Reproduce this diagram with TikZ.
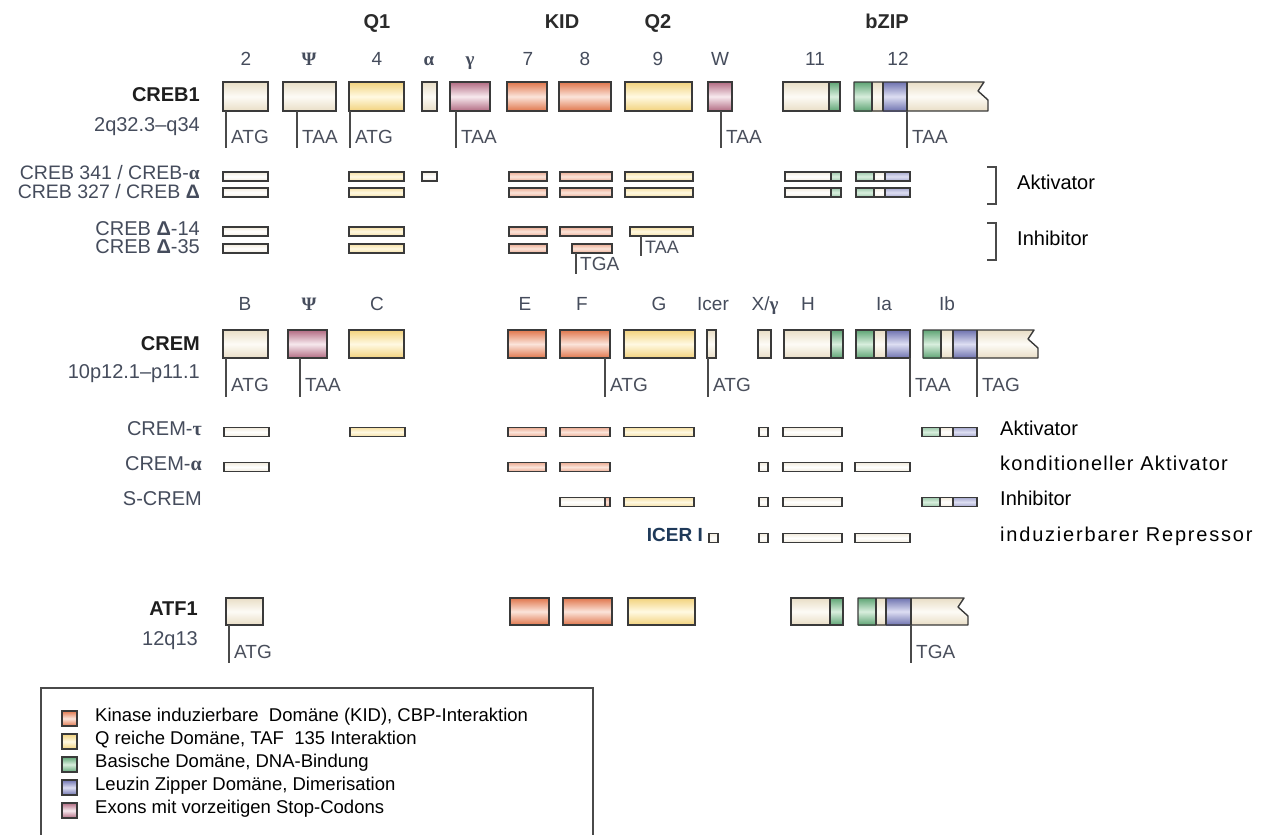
\documentclass[tikz,border=0pt]{standalone}
\usepackage{fontspec}
\setmainfont{Liberation Sans}
\newfontfamily\grk{Liberation Serif}
\newcommand\fsz[1]{\fontsize{#1}{#1}\selectfont}
\definecolor{edgec}{HTML}{3A3A3A}
\definecolor{beigeD}{HTML}{E9DEC6}
\definecolor{beigeL}{HTML}{FDFBF6}
\definecolor{yelD}{HTML}{F2D27C}
\definecolor{yelL}{HTML}{FFF9E2}
\definecolor{oraD}{HTML}{E0764C}
\definecolor{oraL}{HTML}{FBE4DA}
\definecolor{mauD}{HTML}{B26B82}
\definecolor{mauL}{HTML}{F7E9EE}
\definecolor{greD}{HTML}{5FA575}
\definecolor{greL}{HTML}{D8EEDD}
\definecolor{bluD}{HTML}{6F73B0}
\definecolor{bluL}{HTML}{DDDEF2}
\definecolor{labc}{HTML}{454C5C}
\definecolor{genec}{HTML}{1E1E1E}
\definecolor{hdrc}{HTML}{2A2A2A}
\definecolor{codc}{HTML}{4A4F5C}
\definecolor{tickc}{HTML}{4A4A4A}
\definecolor{icerc}{HTML}{1F3A5A}
\newcommand\vb[4]{\draw[bar,#4] (#1,#3-4.5) rectangle (#2,#3+4.5);}
\newcommand\vbg[4]{\shade[beigeB] (#1,#4-4.5) rectangle (#2,#4+4.5);\shade[greB] (#2,#4-4.5) rectangle (#3,#4+4.5);\draw[bar] (#1,#4-4.5) rectangle (#3,#4+4.5) (#2,#4-4.5) -- (#2,#4+4.5);}
\newcommand\vbz[5]{\shade[greB] (#1,#5-4.5) rectangle (#2,#5+4.5);\shade[beigeB] (#2,#5-4.5) rectangle (#3,#5+4.5);\shade[bluB] (#3,#5-4.5) rectangle (#4,#5+4.5);\draw[bar] (#1,#5-4.5) rectangle (#4,#5+4.5) (#2,#5-4.5) -- (#2,#5+4.5) (#3,#5-4.5) -- (#3,#5+4.5);}
\begin{document}
\begin{tikzpicture}[x=1pt,y=-1pt,
  ex/.style={draw=edgec,line width=1.4pt},
  bar/.style={draw=edgec,line width=1.2pt},
  beigeS/.style={top color=beigeD,bottom color=beigeD,middle color=beigeL},
  yelS/.style={top color=yelD,bottom color=yelD,middle color=yelL},
  oraS/.style={top color=oraD,bottom color=oraD,middle color=oraL},
  mauS/.style={top color=mauD,bottom color=mauD,middle color=mauL},
  greS/.style={top color=greD,bottom color=greD,middle color=greL},
  bluS/.style={top color=bluD,bottom color=bluD,middle color=bluL},
  beigeB/.style={top color=beigeD!60,bottom color=beigeD!60,middle color=white},
  yelB/.style={top color=yelD!70,bottom color=yelD!70,middle color=yelL},
  oraB/.style={top color=oraD!60,bottom color=oraD!60,middle color=oraL},
  greB/.style={top color=greD!60,bottom color=greD!60,middle color=greL},
  bluB/.style={top color=bluD!60,bottom color=bluD!60,middle color=bluL},
  txt/.style={inner sep=0pt,text height=0.72em,text depth=0pt},
  hdr/.style={txt,font=\fsz{20}\bfseries,text=hdrc},
  elab/.style={txt,font=\fsz{19},text=labc},
  gene/.style={txt,font=\fsz{20}\bfseries,text=genec,anchor=east},
  chrom/.style={txt,font=\fsz{20},text=labc,anchor=east},
  vlab/.style={txt,font=\fsz{20},text=labc,anchor=east},
  cod/.style={txt,font=\fsz{19},text=codc,anchor=west},
  tick/.style={draw=tickc,line width=1.3pt},
  rt/.style={txt,font=\fsz{20},text=black,anchor=west},
  brk/.style={draw=tickc,line width=1.5pt},
  leg/.style={txt,font=\fsz{18.5},text=black,anchor=west},
  legsq/.style={draw=edgec,line width=1.2pt},
]
\useasboundingbox[fill=white] (0,0) rectangle (1280,835);

% ---------- headers ----------
\node[hdr] (hq1) at (377,25) {Q1};
\node[hdr] (hkid) at (562,25) {KID};
\node[hdr] (hq2) at (658,25) {Q2};
\node[hdr] (hbzip) at (887,25) {bZIP};

% ---------- CREB1 ----------
\node[elab] (l2) at (246,62) {2};
\node[elab] (lpsi) at (309,62) {{\grk\bfseries Ψ}};
\node[elab] (l4) at (377,62) {4};
\node[elab] (lal) at (429,62) {{\grk\bfseries α}};
\node[elab] (lga) at (470,62) {{\grk\bfseries γ}};
\node[elab] (l7) at (528,62) {7};
\node[elab] (l8) at (585,62) {8};
\node[elab] (l9) at (658,62) {9};
\node[elab] (lw) at (720,62) {W};
\node[elab] (l11) at (815,62) {11};
\node[elab] (l12) at (898,62) {12};

\node[gene] (creb1) at (200,98) {CREB1};
\node[chrom] (creb1c) at (200,128) {2q32.3–q34};

\draw[ex,beigeS] (223,82) rectangle (268,111);
\draw[ex,beigeS] (283,82) rectangle (336,111);
\draw[ex,yelS] (349,82) rectangle (404,111);
\draw[ex,beigeS] (422,82) rectangle (437,111);
\draw[ex,mauS] (450,82) rectangle (490,111);
\draw[ex,oraS] (507,82) rectangle (547,111);
\draw[ex,oraS] (559,82) rectangle (611,111);
\draw[ex,yelS] (625,82) rectangle (692,111);
\draw[ex,mauS] (708,82) rectangle (732,111);
\shade[beigeS] (783,82) rectangle (829,111);
\shade[greS] (829,82) rectangle (840,111);
\draw[ex] (783,82) rectangle (840,111) (829,82) -- (829,111);
\shade[greS] (854,82) rectangle (872,111);
\shade[beigeS] (872,82) rectangle (883,111);
\shade[bluS] (883,82) rectangle (907,111);
\shade[beigeS] (907,82) -- (984,82) -- (978,91) -- (988,100) -- (988,111) -- (907,111) -- cycle;
\draw[ex,line join=round] (854,82) -- (984,82) -- (978,91) -- (988,100) -- (988,111) -- (854,111) -- cycle;
\draw[ex] (872,82) -- (872,111) (883,82) -- (883,111) (907,82) -- (907,111);

\draw[tick] (226,111) -- (226,148);
\node[cod] (c1) at (231,140) {ATG};
\draw[tick] (297,111) -- (297,148);
\node[cod] (c2) at (302,140) {TAA};
\draw[tick] (350,111) -- (350,148);
\node[cod] (c3) at (355,140) {ATG};
\draw[tick] (456,111) -- (456,148);
\node[cod] (c4) at (461,140) {TAA};
\draw[tick] (721,111) -- (721,148);
\node[cod] (c5) at (726,140) {TAA};
\draw[tick] (907,111) -- (907,148);
\node[cod] (c6) at (912,140) {TAA};

% ---------- CREB variants ----------
\node[vlab,font=\fsz{19.5}] (v1) at (200,176) {CREB 341 / CREB-{\grk\bfseries α}};
\node[vlab,font=\fsz{19.5}] (v2) at (200,195) {CREB 327 / CREB {\bfseries Δ}};
\node[vlab] (v3) at (200,232) {CREB {\bfseries Δ}-14};
\node[vlab] (v4) at (200,250) {CREB {\bfseries Δ}-35};

\vb{223}{268}{176.5}{beigeB}\vb{349}{404}{176.5}{yelB}\vb{422}{437}{176.5}{beigeB}
\vb{509}{547}{176.5}{oraB}\vb{560}{612}{176.5}{oraB}\vb{625}{693}{176.5}{yelB}
\vbg{785}{831}{841}{176.5}\vbz{856}{874}{885}{910}{176.5}

\vb{223}{268}{192.5}{beigeB}\vb{349}{404}{192.5}{yelB}
\vb{509}{547}{192.5}{oraB}\vb{560}{612}{192.5}{oraB}\vb{625}{693}{192.5}{yelB}
\vbg{785}{831}{841}{192.5}\vbz{856}{874}{885}{910}{192.5}

\vb{223}{268}{231.5}{beigeB}\vb{349}{404}{231.5}{yelB}
\vb{509}{547}{231.5}{oraB}\vb{560}{612}{231.5}{oraB}\vb{630}{693}{231.5}{yelB}

\vb{223}{268}{248.5}{beigeB}\vb{349}{404}{248.5}{yelB}
\vb{509}{547}{248.5}{oraB}\vb{572}{612}{248.5}{oraB}

\draw[tick,line width=1.1pt] (641,236) -- (641,256);
\node[cod,font=\fsz{18}] (c7) at (645,250) {TAA};
\draw[tick,line width=1.1pt] (576,253) -- (576,274);
\node[cod] (c8) at (580,267) {TGA};

\draw[brk] (987,167) -- (996,167) -- (996,204) -- (987,204);
\node[rt] (ra1) at (1017,186) {Aktivator};
\draw[brk] (987,223) -- (996,223) -- (996,260) -- (987,260);
\node[rt] (ri1) at (1017,242) {Inhibitor};

% ---------- CREM ----------
\node[elab] (mB) at (245,307) {B};
\node[elab] (mpsi) at (309,307) {{\grk\bfseries Ψ}};
\node[elab] (mC) at (377,307) {C};
\node[elab] (mE) at (525,307) {E};
\node[elab] (mF) at (582,307) {F};
\node[elab] (mG) at (659,307) {G};
\node[elab] (mIcer) at (713,307) {Icer};
\node[elab] (mX) at (765,307) {X/{\grk\bfseries γ}};
\node[elab] (mH) at (808,307) {H};
\node[elab] (mIa) at (884,307) {Ia};
\node[elab] (mIb) at (947,307) {Ib};

\node[gene] (crem) at (200,347) {CREM};
\node[chrom] (cremc) at (200,375) {10p12.1–p11.1};

\draw[ex,beigeS] (223,330) rectangle (268,358);
\draw[ex,mauS] (288,330) rectangle (327,358);
\draw[ex,yelS] (349,330) rectangle (404,358);
\draw[ex,oraS] (508,330) rectangle (546,358);
\draw[ex,oraS] (560,330) rectangle (610,358);
\draw[ex,yelS] (624,330) rectangle (695,358);
\draw[ex,beigeS] (707,330) rectangle (716,358);
\draw[ex,beigeS] (758,330) rectangle (771,358);
\shade[beigeS] (784,330) rectangle (831,358);
\shade[greS] (831,330) rectangle (843,358);
\draw[ex] (784,330) rectangle (843,358) (831,330) -- (831,358);
\shade[greS] (856,330) rectangle (874,358);
\shade[beigeS] (874,330) rectangle (886,358);
\shade[bluS] (886,330) rectangle (910,358);
\draw[ex] (856,330) rectangle (910,358) (874,330) -- (874,358) (886,330) -- (886,358);
\shade[greS] (923,330) rectangle (941,358);
\shade[beigeS] (941,330) rectangle (953,358);
\shade[bluS] (953,330) rectangle (977,358);
\shade[beigeS] (977,330) -- (1034,330) -- (1028,339) -- (1038,348) -- (1038,358) -- (977,358) -- cycle;
\draw[ex,line join=round] (923,330) -- (1034,330) -- (1028,339) -- (1038,348) -- (1038,358) -- (923,358) -- cycle;
\draw[ex] (941,330) -- (941,358) (953,330) -- (953,358) (977,330) -- (977,358);

\draw[tick] (226,358) -- (226,397);
\node[cod] (d1) at (231,388) {ATG};
\draw[tick] (300,358) -- (300,397);
\node[cod] (d2) at (305,388) {TAA};
\draw[tick] (605,358) -- (605,397);
\node[cod] (d3) at (610,388) {ATG};
\draw[tick] (708,358) -- (708,397);
\node[cod] (d4) at (713,388) {ATG};
\draw[tick] (910,358) -- (910,397);
\node[cod] (d5) at (915,388) {TAA};
\draw[tick] (977,358) -- (977,397);
\node[cod] (d6) at (982,388) {TAG};

% ---------- CREM variants ----------
\node[vlab] (w1) at (202,432) {CREM-{\grk\bfseries τ}};
\node[vlab] (w2) at (202,467) {CREM-{\grk\bfseries α}};
\node[vlab] (w3) at (202,502) {S-CREM};
\node[gene,font=\fsz{19}\bfseries,text=icerc] (w4) at (703,538) {ICER I};

\vb{224}{269}{432}{beigeB}\vb{350}{405}{432}{yelB}\vb{508}{546}{432}{oraB}\vb{560}{610}{432}{oraB}
\vb{624}{694}{432}{yelB}\vb{759}{768}{432}{beigeB}\vb{783}{842}{432}{beigeB}\vbz{922}{940}{953}{977}{432}

\vb{224}{269}{467}{beigeB}\vb{508}{546}{467}{oraB}\vb{560}{610}{467}{oraB}
\vb{759}{768}{467}{beigeB}\vb{783}{842}{467}{beigeB}\vb{855}{910}{467}{beigeB}

\shade[beigeB] (560,497.5) rectangle (605,506.5);
\shade[oraB] (605,497.5) rectangle (610,506.5);
\draw[bar] (560,497.5) rectangle (610,506.5) (605,497.5) -- (605,506.5);
\vb{624}{694}{502}{yelB}\vb{759}{768}{502}{beigeB}\vb{783}{842}{502}{beigeB}\vbz{922}{940}{953}{977}{502}

\vb{709}{718}{538}{beigeB}\vb{759}{768}{538}{beigeB}\vb{783}{842}{538}{beigeB}\vb{855}{910}{538}{beigeB}

\node[rt] (r1) at (1000,432) {Aktivator};
\node[rt] (r2) at (1000,467) {\addfontfeature{LetterSpace=6}konditioneller Aktivator};
\node[rt] (r3) at (1000,502) {Inhibitor};
\node[rt] (r4) at (1000,538) {\addfontfeature{LetterSpace=9}induzierbarer Repressor};

% ---------- ATF1 ----------
\node[gene] (atf1) at (198,612) {ATF1};
\node[chrom] (atf1c) at (198,642) {12q13};
\draw[ex,beigeS] (226,598) rectangle (263,625);
\draw[ex,oraS] (510,598) rectangle (549,625);
\draw[ex,oraS] (563,598) rectangle (612,625);
\draw[ex,yelS] (628,598) rectangle (695,625);
\shade[beigeS] (791,598) rectangle (830,625);
\shade[greS] (830,598) rectangle (843,625);
\draw[ex] (791,598) rectangle (843,625) (830,598) -- (830,625);
\shade[greS] (858,598) rectangle (876,625);
\shade[beigeS] (876,598) rectangle (886,625);
\shade[bluS] (886,598) rectangle (911,625);
\shade[beigeS] (911,598) -- (964,598) -- (958,607) -- (968,616) -- (968,625) -- (911,625) -- cycle;
\draw[ex,line join=round] (858,598) -- (964,598) -- (958,607) -- (968,616) -- (968,625) -- (858,625) -- cycle;
\draw[ex] (876,598) -- (876,625) (886,598) -- (886,625) (911,598) -- (911,625);

\draw[tick] (229,625) -- (229,663);
\node[cod] (e1) at (234,655) {ATG};
\draw[tick] (911,625) -- (911,663);
\node[cod] (e2) at (916,655) {TGA};

% ---------- legend ----------
\draw[draw=tickc,line width=1.5pt] (41,840) -- (41,688) -- (593,688) -- (593,840);
\draw[legsq,oraS] (62,711) rectangle (77,726);
\draw[legsq,yelS] (62,734) rectangle (77,749);
\draw[legsq,greS] (62,757) rectangle (77,772);
\draw[legsq,bluS] (62,780) rectangle (77,795);
\draw[legsq,mauS] (62,803) rectangle (77,818);
\node[leg] (g1) at (95,718) {Kinase induzierbare\ \ Domäne (KID), CBP-Interaktion};
\node[leg] (g2) at (95,741) {Q reiche Domäne, TAF\ \ 135 Interaktion};
\node[leg] (g3) at (95,764) {Basische Domäne, DNA-Bindung};
\node[leg] (g4) at (95,787) {Leuzin Zipper Domäne, Dimerisation};
\node[leg] (g5) at (95,810) {Exons mit vorzeitigen Stop-Codons};
\end{tikzpicture}
\end{document}
